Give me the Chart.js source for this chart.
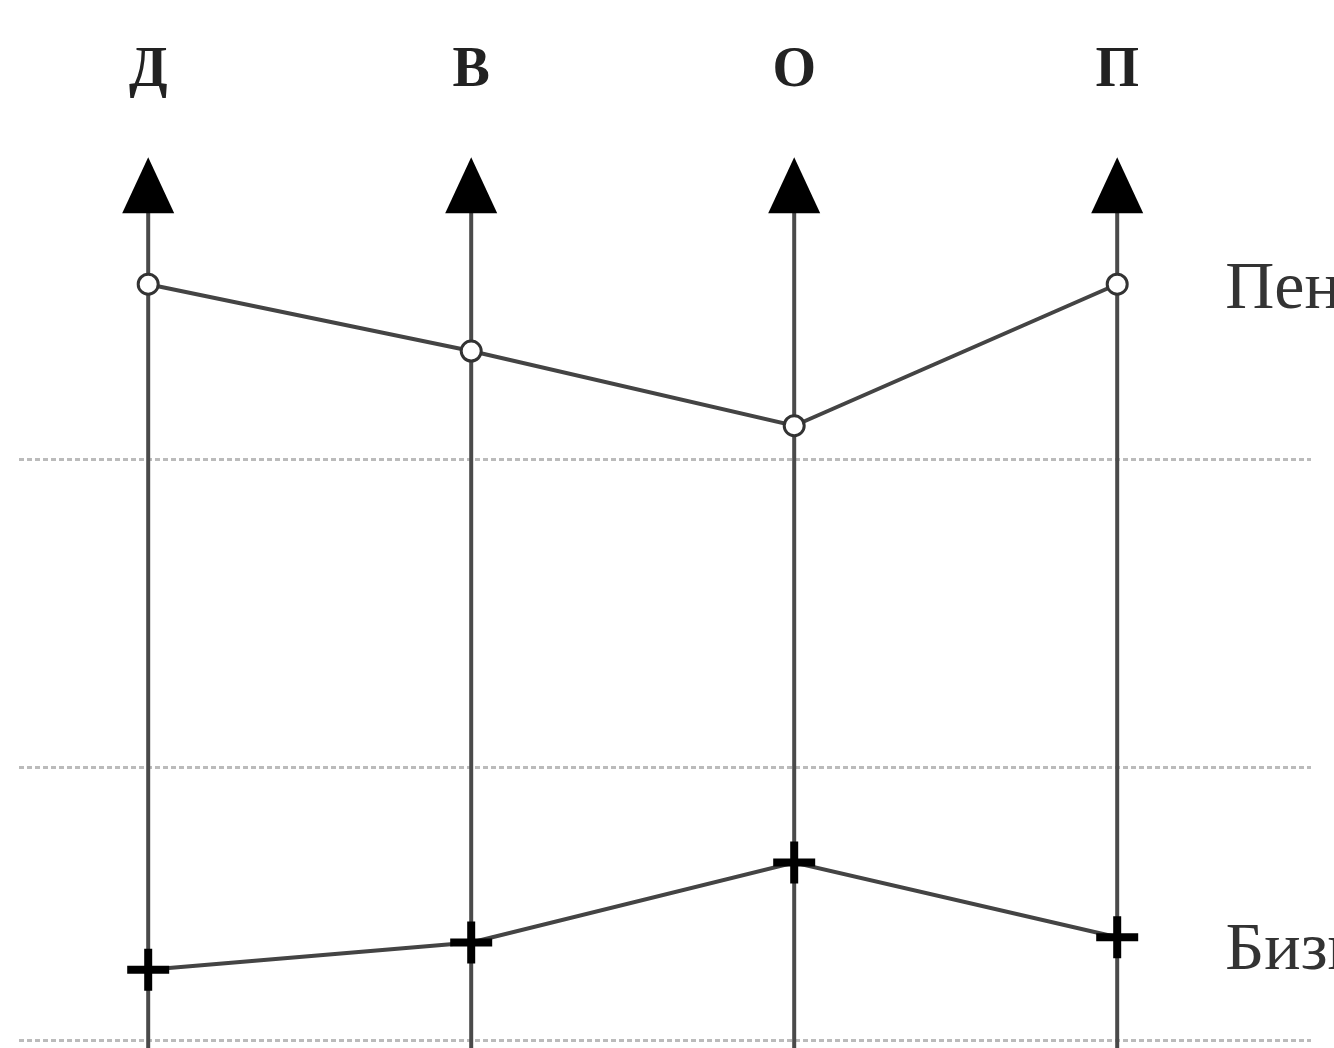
<!DOCTYPE html>
<html>
<head>
<meta charset="utf-8">
<style>
  html, body { margin: 0; padding: 0; background: #fff; }
  canvas { display: block; }
</style>
<script src="https://cdn.jsdelivr.net/npm/chart.js@4"></script>
</head>
<body>
<canvas id="chart" width="1334" height="1048"></canvas>
<script>
// categories (one vertical axis each)
const categories = ['Д', 'В', 'О', 'П'];
// series values, 0..100 scale
const pensionersLabel = 'Пенсионеры';
const pensioners = [86, 78.4, 69.9, 86];
const businessLabel = 'Бизнесмены';
const business = [8, 11.1, 20.2, 11.7];
// dotted horizontal levels
const levelTicks = [0, 31, 66];

const toPoints = arr => arr.map((v, i) => ({ x: i, y: v }));

// vertical axes with arrowheads + series names at the right
const axesPlugin = {
    id: 'axes',
    beforeDatasetsDraw(chart) {
        const { ctx, chartArea, scales } = chart;
        const tip = chartArea.top - 4;
        const base = tip + 56;
        ctx.save();
        categories.forEach((c, i) => {
            const x = scales.x.getPixelForValue(i);
            ctx.strokeStyle = '#4a4a4a';
            ctx.lineWidth = 4;
            ctx.beginPath();
            ctx.moveTo(x, base - 4);
            ctx.lineTo(x, chart.height);
            ctx.stroke();
            ctx.fillStyle = '#000';
            ctx.beginPath();
            ctx.moveTo(x, tip);
            ctx.lineTo(x - 26, base);
            ctx.lineTo(x + 26, base);
            ctx.closePath();
            ctx.fill();
        });
        ctx.restore();
    },
    afterDatasetsDraw(chart) {
        const { ctx, scales } = chart;
        const last = categories.length - 1;
        const x = scales.x.getPixelForValue(last) + 108;
        ctx.save();
        ctx.fillStyle = '#333';
        ctx.font = '68px "Liberation Serif", "DejaVu Serif", serif';
        ctx.textBaseline = 'middle';
        ctx.fillText(pensionersLabel, x, scales.y.getPixelForValue(pensioners[last]) + 6);
        ctx.fillText(businessLabel, x, scales.y.getPixelForValue(business[last]) + 14);
        ctx.restore();
    }
};

new Chart(document.getElementById('chart'), {
    type: 'line',
    data: {
        datasets: [
            {
                label: pensionersLabel,
                data: toPoints(pensioners),
                borderColor: '#444',
                borderWidth: 4,
                pointStyle: 'circle',
                pointRadius: 10,
                pointBorderWidth: 3,
                pointBorderColor: '#333',
                pointBackgroundColor: '#fff'
            },
            {
                label: businessLabel,
                data: toPoints(business),
                borderColor: '#444',
                borderWidth: 4,
                pointStyle: 'cross',
                pointRadius: 21,
                pointBorderWidth: 8,
                pointBorderColor: '#000',
                pointBackgroundColor: '#000'
            }
        ]
    },
    options: {
        responsive: false,
        animation: false,
        layout: { autoPadding: false, padding: { top: -10, left: 19, right: 23, bottom: 8 } },
        plugins: { legend: { display: false }, tooltip: { enabled: false } },
        scales: {
            x: {
                type: 'linear',
                position: 'top',
                min: -0.4,
                max: 3.6,
                afterBuildTicks: axis => { axis.ticks = categories.map((c, i) => ({ value: i })); },
                ticks: {
                    callback: v => categories[v],
                    color: '#222',
                    padding: 48,
                    maxRotation: 0,
                    font: { family: '"Liberation Serif", serif', size: 56, weight: 'bold' }
                },
                grid: { display: false },
                border: { display: false }
            },
            y: {
                min: 0,
                max: 100,
                afterBuildTicks: axis => { axis.ticks = levelTicks.map(v => ({ value: v })); },
                ticks: { display: false },
                grid: { color: '#bbb', lineWidth: 3, drawTicks: false },
                border: { display: false, dash: [5, 3] }
            }
        }
    },
    plugins: [axesPlugin]
});
</script>
</body>
</html>
